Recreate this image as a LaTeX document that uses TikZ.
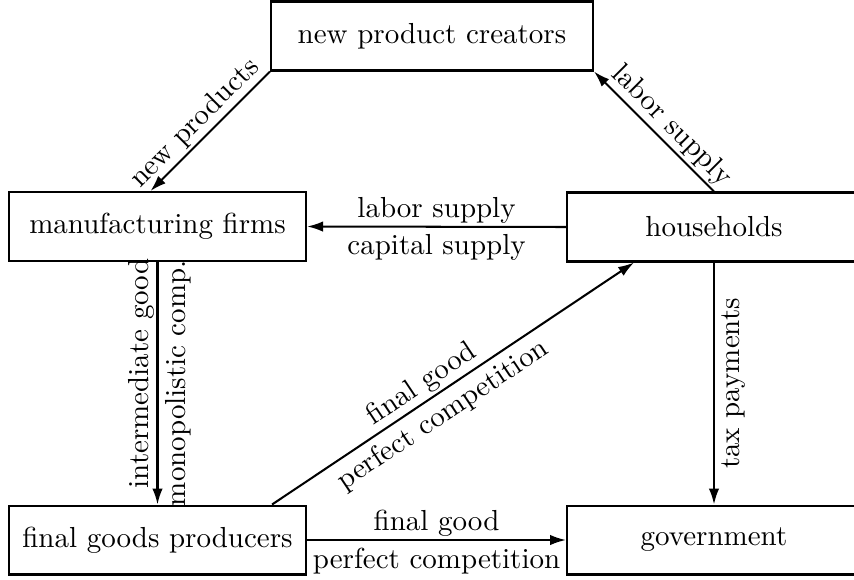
\documentclass[tikz,border=0pt]{standalone}
\usetikzlibrary{arrows.meta,calc}
\begin{document}
\begin{tikzpicture}[x=0.345pt,y=-0.345pt,
  box/.style={draw, line width=0.7pt, minimum height=23.8pt, inner sep=0pt},
  arr/.style={line width=0.7pt, -{Latex[length=5.5pt,width=3.6pt]}},
  labup/.style={inner sep=0.8pt},
  labdn/.style={inner sep=2.3pt}]
\useasboundingbox (0,0) rectangle (854,579);
\clip (0,0) rectangle (854,579);
\node[box, minimum width=111.1pt] (npc) at (432,36) {new product creators};
\node[box, minimum width=102.5pt] (mf) at (157.5,226.5) {manufacturing firms};
\node[box, minimum width=101.4pt] (hh) at (714,227) {households};
\node[box, minimum width=102.5pt] (fgp) at (157.5,540) {final goods producers};
\node[box, minimum width=101.4pt] (gov) at (714,540) {government};
\coordinate (mfin) at ($(mf.north)+(-7,0)$);
\coordinate (dstart) at ($(fgp.north east)+(-35,0)$);
\coordinate (dend) at ($(hh.south west)+(68,0)$);
\draw[arr] (npc.south west) -- node[labup,sloped,above,pos=0.53] {new products} (mfin);
\draw[arr] (hh.north) -- node[labup,sloped,above,pos=0.45] {labor supply} (npc.south east);
\draw[arr] (hh.west) -- node[labup,above] {labor supply} node[labdn,below] {capital supply} (mf.east);
\draw[arr] (mf.south) -- node[labup,rotate=90,anchor=south,pos=0.46] {intermediate good} node[labdn,rotate=90,anchor=north] {monopolistic comp.} (fgp.north);
\draw[arr] (dstart) -- node[labup,sloped,above,pos=0.44] {final good} node[labdn,sloped,below,pos=0.44] {perfect competition} (dend);
\draw[arr] (fgp.east) -- node[labup,above] {final good} node[labdn,below] {perfect competition} (gov.west);
\draw[arr] (hh.south) -- node[labdn,rotate=90,anchor=north] {tax payments} (gov.north);
\end{tikzpicture}
\end{document}
